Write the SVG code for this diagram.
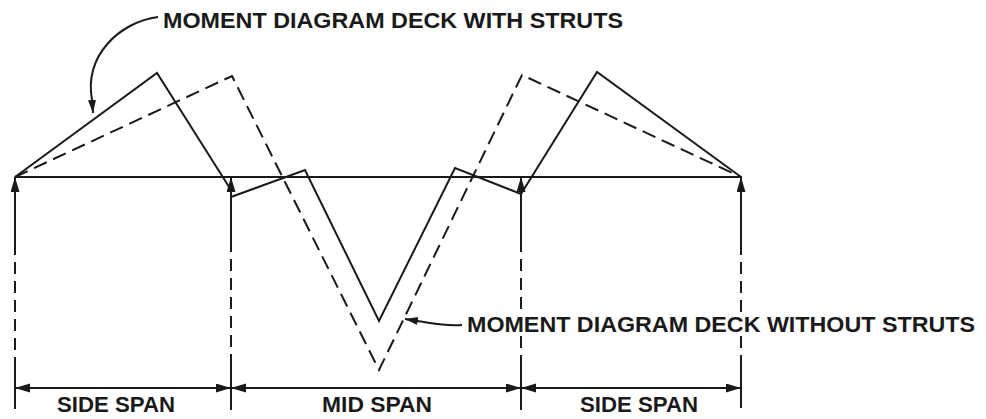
<svg xmlns="http://www.w3.org/2000/svg" width="986" height="419" viewBox="0 0 986 419">
<style>
.ln{fill:none;stroke:#1a1a1a;stroke-width:2;stroke-linejoin:miter}
.ds{fill:none;stroke:#1a1a1a;stroke-width:2;stroke-dasharray:14 7}
.vd{fill:none;stroke:#1a1a1a;stroke-width:2;stroke-dasharray:12 7}
.tx{font-family:"Liberation Sans",Arial,sans-serif;font-weight:bold;font-size:22px;fill:#1a1a1a}
</style>
<defs>
<marker id="ah" markerUnits="userSpaceOnUse" markerWidth="16" markerHeight="10" refX="15" refY="4.5" orient="auto-start-reverse">
<path d="M0,0 L15,4.5 L0,9 z" fill="#1a1a1a"/>
</marker>
<marker id="ahs" markerUnits="userSpaceOnUse" markerWidth="14" markerHeight="10" refX="13" refY="4" orient="auto">
<path d="M0,0 L13,4 L0,8 z" fill="#1a1a1a"/>
</marker>
</defs>
<rect width="986" height="419" fill="#fff"/>
<g id="connectors">
<!-- baseline -->
<path class="ln" d="M15,177 H742"/>
<!-- moment with struts (solid) -->
<path class="ln" d="M15,177 L157,73 L231,190 L231,197 L305,170 L379,321 L455,168 L521,194 L597,72 L741,177"/>
<!-- moment without struts (dashed) -->
<path class="ds" d="M15,177 L232,76 L379,370 L522,75 L741,177"/>
<!-- supports -->
<path class="ln" d="M15,243 V177" marker-end="url(#ah)"/>
<path class="vd" d="M15,243 V357"/>
<path class="ln" d="M15,357 V409"/>
<path class="ln" d="M231,240 V177" marker-end="url(#ah)"/>
<path class="vd" d="M231,240 V364"/>
<path class="ln" d="M231,364 V410"/>
<path class="ln" d="M521,240 V177" marker-end="url(#ah)"/>
<path class="vd" d="M521,240 V312"/>
<path class="vd" d="M521,336 V364"/>
<path class="ln" d="M521,364 V410"/>
<path class="ln" d="M741,243 V177" marker-end="url(#ah)"/>
<path class="vd" d="M741,243 V312"/>
<path class="vd" d="M741,336 V357"/>
<path class="ln" d="M741,357 V408"/>
<!-- dimension lines -->
<path class="ln" d="M15,388 H231" marker-start="url(#ah)" marker-end="url(#ah)"/>
<path class="ln" d="M231,388 H521" marker-start="url(#ah)" marker-end="url(#ah)"/>
<path class="ln" d="M521,388 H741" marker-start="url(#ah)" marker-end="url(#ah)"/>
<!-- leaders -->
<path class="ln" d="M158,17 C120,22 84,55 92,100 L93,113" marker-end="url(#ahs)"/>
<path class="ln" d="M462,325 C445,326 430,323 405,319" marker-end="url(#ahs)"/>
</g>
<g id="label-with-struts"><text class="tx" x="163" y="28" textLength="460" lengthAdjust="spacingAndGlyphs">MOMENT DIAGRAM DECK WITH STRUTS</text></g>
<g id="label-without-struts"><text class="tx" x="467" y="332" textLength="508" lengthAdjust="spacingAndGlyphs">MOMENT DIAGRAM DECK WITHOUT STRUTS</text></g>
<g id="label-side-span-left"><text class="tx" x="57" y="412" textLength="118" lengthAdjust="spacingAndGlyphs">SIDE SPAN</text></g>
<g id="label-mid-span"><text class="tx" x="322" y="412" textLength="110" lengthAdjust="spacingAndGlyphs">MID SPAN</text></g>
<g id="label-side-span-right"><text class="tx" x="580" y="412" textLength="118" lengthAdjust="spacingAndGlyphs">SIDE SPAN</text></g>
</svg>
